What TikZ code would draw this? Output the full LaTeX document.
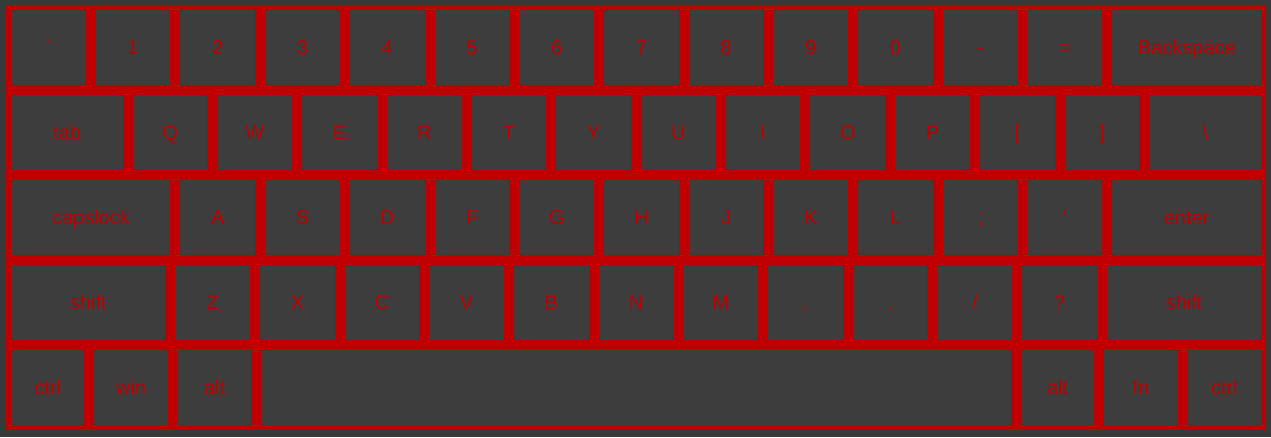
\documentclass[tikz,border=0pt]{standalone}
\usepackage{fontspec}
\setmainfont{Liberation Sans}[Ligatures=TeXOff]
\definecolor{kbbg}{HTML}{393939}
\definecolor{kbkey}{HTML}{3D3D3D}
\definecolor{kbred}{HTML}{C00000}
\def\kbu{84.70588}
\newcommand\kb[5]{%
  \pgfmathsetmacro\kxa{#2}%
  \pgfmathsetmacro\kxb{#3}%
  \pgfmathsetmacro\kw{\kxb-\kxa-10}%
  \pgfmathsetmacro\kx{(\kxa+\kxb)/2}%
  \pgfmathsetmacro\ky{47.5+85*#4}%
  \node[keycap, minimum width=\kw pt] (#1) at (\kx,\ky) {#5};}
\newcommand\ku[5]{\kb{#1}{#5+#2*\kbu}{#5+(#2+1)*\kbu}{#3}{#4}}
\begin{document}
\begin{tikzpicture}[x=1pt,y=-1pt,
  keycap/.style={fill=kbkey, draw=none, inner sep=0pt, minimum height=75pt,
    text=kbred, text height=13pt, text depth=0pt,
    font=\fontsize{20}{24}\selectfont}]
\useasboundingbox (0,0) rectangle (1271,437);
\fill[kbbg] (0,0) rectangle (1271,437);
\fill[kbred] (6,5) rectangle (1266,430);
% row 0
\ku{kgrave}{0}{0}{`}{6}
\ku{kone}{1}{0}{1}{6}
\ku{ktwo}{2}{0}{2}{6}
\ku{kthree}{3}{0}{3}{6}
\ku{kfour}{4}{0}{4}{6}
\ku{kfive}{5}{0}{5}{6}
\ku{ksix}{6}{0}{6}{6}
\ku{kseven}{7}{0}{7}{6}
\ku{keight}{8}{0}{8}{6}
\ku{knine}{9}{0}{9}{6}
\ku{kzero}{10}{0}{0}{6}
\ku{kminus}{11}{0}{-}{6}
\ku{kequal}{12}{0}{=}{6}
\kb{kback}{6+13*\kbu}{1266}{0}{Backspace}
% row 1
\kb{ktab}{6}{6+1.4375*\kbu}{1}{tab}
\ku{kq}{0}{1}{Q}{6+1.4375*\kbu}
\ku{kw}{1}{1}{W}{6+1.4375*\kbu}
\ku{ke}{2}{1}{E}{6+1.4375*\kbu}
\ku{kr}{3}{1}{R}{6+1.4375*\kbu}
\ku{kt}{4}{1}{T}{6+1.4375*\kbu}
\ku{ky}{5}{1}{Y}{6+1.4375*\kbu}
\ku{kuu}{6}{1}{U}{6+1.4375*\kbu}
\ku{ki}{7}{1}{I}{6+1.4375*\kbu}
\ku{ko}{8}{1}{O}{6+1.4375*\kbu}
\ku{kp}{9}{1}{P}{6+1.4375*\kbu}
\ku{klbr}{10}{1}{[}{6+1.4375*\kbu}
\ku{krbr}{11}{1}{]}{6+1.4375*\kbu}
\kb{kbslash}{6+13.4375*\kbu}{1266}{1}{\textbackslash}
% row 2
\kb{kcaps}{6}{6+2*\kbu}{2}{capslock}
\ku{ka}{0}{2}{A}{6+2*\kbu}
\ku{ks}{1}{2}{S}{6+2*\kbu}
\ku{kd}{2}{2}{D}{6+2*\kbu}
\ku{kf}{3}{2}{F}{6+2*\kbu}
\ku{kg}{4}{2}{G}{6+2*\kbu}
\ku{kh}{5}{2}{H}{6+2*\kbu}
\ku{kj}{6}{2}{J}{6+2*\kbu}
\ku{kk}{7}{2}{K}{6+2*\kbu}
\ku{kl}{8}{2}{L}{6+2*\kbu}
\ku{ksemi}{9}{2}{;}{6+2*\kbu}
\ku{kquote}{10}{2}{'}{6+2*\kbu}
\kb{kenter}{6+13*\kbu}{1266}{2}{enter}
% row 3
\kb{klshift}{6}{6+1.9375*\kbu}{3}{shift}
\ku{kz}{0}{3}{Z}{6+1.9375*\kbu}
\ku{kx}{1}{3}{X}{6+1.9375*\kbu}
\ku{kc}{2}{3}{C}{6+1.9375*\kbu}
\ku{kv}{3}{3}{V}{6+1.9375*\kbu}
\ku{kb}{4}{3}{B}{6+1.9375*\kbu}
\ku{kn}{5}{3}{N}{6+1.9375*\kbu}
\ku{km}{6}{3}{M}{6+1.9375*\kbu}
\ku{kcomma}{7}{3}{,}{6+1.9375*\kbu}
\ku{kdot}{8}{3}{.}{6+1.9375*\kbu}
\ku{kslash}{9}{3}{/}{6+1.9375*\kbu}
\ku{kquest}{10}{3}{?}{6+1.9375*\kbu}
\kb{krshift}{6+12.9375*\kbu}{1266}{3}{shift}
% row 4
\kb{klctrl}{6}{89.333}{4}{ctrl}
\kb{kwin}{89.333}{172.667}{4}{win}
\kb{klalt}{172.667}{256}{4}{alt}
\kb{kspace}{256}{1016}{4}{}
\kb{kralt}{1016}{1099.333}{4}{alt}
\kb{kfn}{1099.333}{1182.667}{4}{fn}
\kb{krctrl}{1182.667}{1266}{4}{ctrl}
\end{tikzpicture}
\end{document}
